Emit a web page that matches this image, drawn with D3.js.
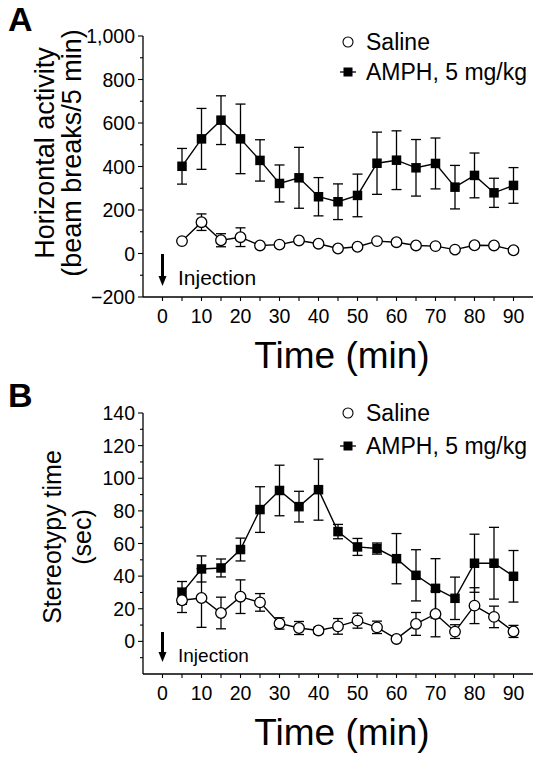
<!DOCTYPE html>
<html><head><meta charset="utf-8">
<script src="https://cdn.jsdelivr.net/npm/d3@7"></script>
<style>body{margin:0;background:#fff}svg{display:block}</style>
</head><body><svg id="c" width="545" height="759"></svg>
<script>
// ---------- data ----------
const times = [5,10,15,20,25,30,35,40,45,50,55,60,65,70,75,80,85,90];
const seriesNames = ["Saline", "AMPH, 5 mg/kg"];
// Panel A: horizontal activity (beam breaks / 5 min)
const aAmph    = [401,527,613,527,428,322,348,261,238,267,415,429,394,414,305,359,279,313];
const aAmphErr = [ 82,140,112,160, 95, 85,140, 88, 82, 98,143,135,130,117,100,103, 67, 82];
const aSal     = [ 57,144, 61, 75, 37, 41, 60, 45, 23, 31, 57, 52, 37, 34, 18, 38, 37, 15];
const aSalErr  = [ 10, 38, 30, 43, 10, 10, 10, 10, 10, 10, 10, 10, 10, 10, 10, 10, 10, 10];
// Panel B: stereotypy time (sec)
const bAmph    = [29.7,44.4,45.0,56.3,80.8,92.5,82.6,93.0,67.3,57.9,56.9,50.7,40.5,32.5,26.4,47.9,47.9,39.9];
const bAmphErr = [ 7.0, 8.0, 5.5, 7.0,14.0,15.5, 9.4,18.7, 4.4, 5.2, 3.4,15.4,15.7,18.2,13.0,17.8,22.0,15.8];
const bSal     = [25.2,26.6,17.4,27.4,23.9,11.0, 8.2, 6.7, 9.2,12.7, 8.6, 1.5,10.7,16.8, 6.0,21.9,15.0, 6.1];
const bSalErr  = [ 7.5,18.0, 9.7,10.3, 5.4, 3.5, 4.0, 2.0, 4.8, 4.6, 3.8, 1.0, 7.0,14.0, 4.2,11.0, 6.6, 3.7];
const xTicks = [0,10,20,30,40,50,60,70,80,90];
const xMinorTicks = [5,15,25,35,45,55,65,75,85];
const aYTicks = [-200,0,200,400,600,800,1000];
const aYMinor = [-100,100,300,500,700,900];
const bYTicks = [0,20,40,60,80,100,120,140];
const bYMinor = [-10,10,30,50,70,90,110,130];

// ---------- drawing ----------
const svg = d3.select("#c");
const FONT = "Arial, 'Liberation Sans', Helvetica, sans-serif";

function panel(cfg){
  const g = svg.append("g");
  const x = d3.scaleLinear().domain([-5,95]).range([143,533]);
  const y = d3.scaleLinear().domain(cfg.yDomain).range([cfg.yBottom, cfg.yTop]);

  // axes lines
  g.append("line").attr("x1",x(-5)).attr("x2",x(95)).attr("y1",y(cfg.yDomain[0])).attr("y2",y(cfg.yDomain[0]))
    .attr("stroke","#000").attr("stroke-width",1.3);
  g.append("line").attr("x1",x(-5)).attr("x2",x(-5)).attr("y1",y(cfg.yDomain[0])).attr("y2",y(cfg.yDomain[1]))
    .attr("stroke","#000").attr("stroke-width",1.3);

  // x ticks
  const xb = y(cfg.yDomain[0]);
  g.selectAll(".xt").data(xTicks.concat(xMinorTicks)).join("line")
    .attr("x1",d=>x(d)).attr("x2",d=>x(d)).attr("y1",xb).attr("y2",xb+4)
    .attr("stroke","#000").attr("stroke-width",1.1);
  g.selectAll(".xl").data(xTicks).join("text")
    .attr("x",d=>x(d)).attr("y",xb+26).attr("text-anchor","middle")
    .attr("font-family",FONT).attr("font-size",19.5).text(d=>d);

  // y ticks
  g.selectAll(".yt").data(cfg.yTicks).join("line")
    .attr("x1",x(-5)-5).attr("x2",x(-5)).attr("y1",d=>y(d)).attr("y2",d=>y(d))
    .attr("stroke","#000").attr("stroke-width",1.1);
  g.selectAll(".ym").data(cfg.yMinor).join("line")
    .attr("x1",x(-5)-3).attr("x2",x(-5)).attr("y1",d=>y(d)).attr("y2",d=>y(d))
    .attr("stroke","#000").attr("stroke-width",1.1);
  g.selectAll(".yl").data(cfg.yTicks).join("text")
    .attr("x",x(-5)-8).attr("y",d=>y(d)+7).attr("text-anchor","end")
    .attr("font-family",FONT).attr("font-size",19.5).text(cfg.fmt);

  // axis titles
  g.append("text").attr("x",(x(-5)+x(95))/2 + 4).attr("y",xb+71).attr("text-anchor","middle")
    .attr("font-family",FONT).attr("font-size",37).text("Time (min)");
  cfg.yTitle.forEach((t,i)=>{
    g.append("text").attr("transform",`translate(${cfg.yTitleX[i]},${cfg.yTitleY}) rotate(-90)`)
      .attr("text-anchor","middle").attr("dominant-baseline","central")
      .attr("font-family",FONT).attr("font-size",cfg.yTitleSize).text(t);
  });

  // panel letter
  g.append("text").attr("x",8).attr("y",cfg.letterY).attr("font-family",FONT).attr("font-weight","bold")
    .attr("font-size",34).text(cfg.letter);

  // injection arrow
  const ax = x(0);
  g.append("line").attr("x1",ax).attr("x2",ax).attr("y1",cfg.arrow[0]).attr("y2",cfg.arrow[1]-8)
    .attr("stroke","#000").attr("stroke-width",3);
  g.append("path").attr("d",`M${ax-4},${cfg.arrow[1]-10} L${ax+4},${cfg.arrow[1]-10} L${ax},${cfg.arrow[1]} Z`).attr("fill","#000");
  g.append("text").attr("x",178).attr("y",cfg.injY).attr("dominant-baseline","central")
    .attr("font-family",FONT).attr("font-size",cfg.injSize).text("Injection");

  const line = d3.line().x(d=>x(d[0])).y(d=>y(d[1]));
  function series(vals, errs, kind){
    const pts = times.map((t,i)=>[t, vals[i], errs[i]]);
    g.append("path").datum(pts).attr("d",line).attr("fill","none").attr("stroke","#000").attr("stroke-width",1.4);
    const eb = g.append("g").attr("stroke","#000").attr("stroke-width",1.3);
    pts.forEach(p=>{
      eb.append("line").attr("x1",x(p[0])).attr("x2",x(p[0])).attr("y1",y(p[1]-p[2])).attr("y2",y(p[1]+p[2]));
      [p[1]-p[2], p[1]+p[2]].forEach(v=>{
        eb.append("line").attr("x1",x(p[0])-5).attr("x2",x(p[0])+5).attr("y1",y(v)).attr("y2",y(v));
      });
    });
    if(kind==="square"){
      g.selectAll(null).data(pts).join("rect")
        .attr("x",d=>x(d[0])-4.75).attr("y",d=>y(d[1])-4.75).attr("width",9.5).attr("height",9.5).attr("fill","#000");
    } else {
      g.selectAll(null).data(pts).join("circle")
        .attr("cx",d=>x(d[0])).attr("cy",d=>y(d[1])).attr("r",5.3)
        .attr("fill","#fff").attr("stroke","#000").attr("stroke-width",1.3);
    }
  }
  series(cfg.amph, cfg.amphErr, "square");
  series(cfg.sal, cfg.salErr, "circle");

  // legend
  const lx = 348;
  g.append("circle").attr("cx",lx).attr("cy",cfg.legY[0]).attr("r",5).attr("fill","#fff").attr("stroke","#000").attr("stroke-width",1.1);
  g.append("line").attr("x1",lx-8).attr("x2",lx+8).attr("y1",cfg.legY[1]).attr("y2",cfg.legY[1]).attr("stroke","#000").attr("stroke-width",1.3);
  g.append("rect").attr("x",lx-4.5).attr("y",cfg.legY[1]-4.5).attr("width",9).attr("height",9).attr("fill","#000");
  seriesNames.forEach((n,i)=>{
    g.append("text").attr("x",366).attr("y",cfg.legY[i]).attr("dominant-baseline","central")
      .attr("font-family",FONT).attr("font-size",23).text(n);
  });
}

panel({
  letter:"A", letterY:31,
  yDomain:[-200,1000], yTop:36, yBottom:297,
  yTicks:aYTicks, yMinor:aYMinor, fmt:d3.format(","),
  yTitle:["Horizontal activity","(beam breaks/5 min)"], yTitleX:[45,72], yTitleY:153, yTitleSize:27,
  arrow:[254,286], injY:277, injSize:21,
  amph:aAmph, amphErr:aAmphErr, sal:aSal, salErr:aSalErr,
  legY:[42,72]
});
panel({
  letter:"B", letterY:407,
  yDomain:[-20,140], yTop:413, yBottom:674,
  yTicks:bYTicks, yMinor:bYMinor, fmt:d=>d,
  yTitle:["Stereotypy time","(sec)"], yTitleX:[52,82], yTitleY:537, yTitleSize:25,
  arrow:[632,662], injY:655, injSize:19,
  amph:bAmph, amphErr:bAmphErr, sal:bSal, salErr:bSalErr,
  legY:[413,446]
});
</script></body></html>
